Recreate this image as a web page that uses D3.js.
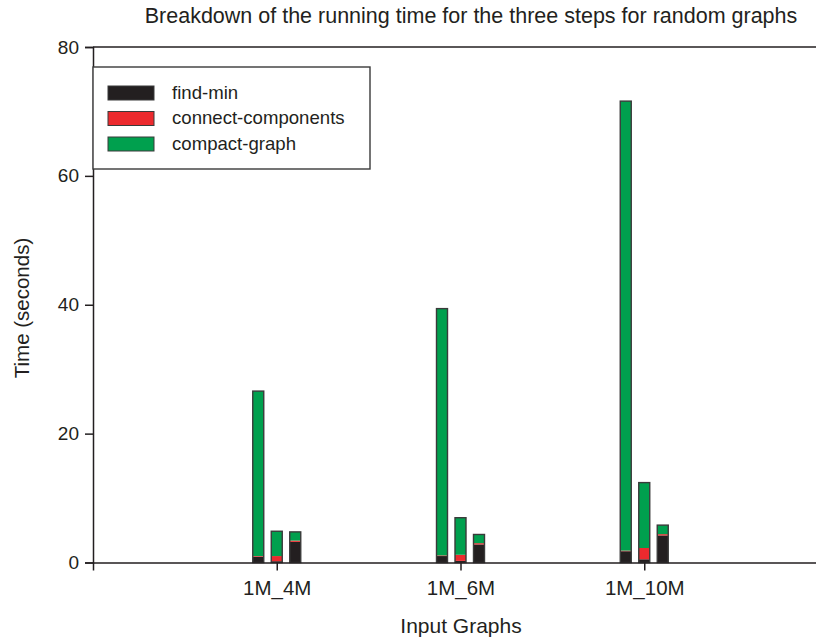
<!DOCTYPE html>
<html>
<head>
<meta charset="utf-8">
<script src="https://cdn.jsdelivr.net/npm/d3@7"></script>
<style>
  html, body { margin: 0; padding: 0; background: #fff; }
  svg { display: block; font-family: "Liberation Sans", Arial, Helvetica, sans-serif; }
</style>
</head>
<body>
<svg id="chart" width="816" height="640"></svg>
<script>
// Input graph sizes (one group per graph)
const graphs = ["1M_4M", "1M_6M", "1M_10M"];
// Three runs per graph; each run is a stack of the three steps
const runs = ["a", "b", "c"];
const steps = ["find-min", "connect-components", "compact-graph"];
const stepColors = ["#231f20", "#ec2a2e", "#00a04e"];

// Seconds spent in each step, per graph (rows) and run (columns)
const findMin = [
  [0.9, 0.2, 3.2],
  [1.0, 0.25, 2.8],
  [1.75, 0.5, 4.2]
];
const connectComponents = [
  [0.1, 0.8, 0.2],
  [0.1, 0.95, 0.2],
  [0.1, 1.75, 0.2]
];
const compactGraph = [
  [25.6, 3.85, 1.35],
  [38.3, 5.75, 1.35],
  [69.75, 10.15, 1.4]
];
const yTicks = [0, 20, 40, 60, 80];

const svg = d3.select("#chart");
const axisColor = "#231f20";

const x = d3.scaleLinear().domain([0, graphs.length + 1]).range([93, 828]);
const y = d3.scaleLinear().domain([0, 80]).range([562.5, 47]);
const runOffset = d3.scalePoint().domain(runs).range([-18.5, 18.5]);
const barW = 11;

// Build stacked rows: one row per (graph, run)
const rows = [];
graphs.forEach((g, gi) => {
  runs.forEach((r, ri) => {
    rows.push({
      graph: g, gi, run: r,
      "find-min": findMin[gi][ri],
      "connect-components": connectComponents[gi][ri],
      "compact-graph": compactGraph[gi][ri]
    });
  });
});
const stacked = d3.stack().keys(steps)(rows);

// Bars
const layers = svg.append("g").selectAll("g")
  .data(stacked)
  .join("g")
  .attr("fill", (d, i) => stepColors[i]);

layers.selectAll("rect")
  .data(d => d)
  .join("rect")
  .attr("x", d => x(d.data.gi + 1) + runOffset(d.data.run) - barW / 2)
  .attr("width", barW)
  .attr("y", d => y(d[1]))
  .attr("height", d => y(d[0]) - y(d[1]));

// Outline around each full stack
const total = d => d["find-min"] + d["connect-components"] + d["compact-graph"];
svg.append("g").selectAll("rect")
  .data(rows)
  .join("rect")
  .attr("x", d => x(d.gi + 1) + runOffset(d.run) - barW / 2)
  .attr("width", barW)
  .attr("y", d => y(total(d)))
  .attr("height", d => y(0) - y(total(d)))
  .attr("fill", "none")
  .attr("stroke", "#3a3a3a")
  .attr("stroke-width", 1.4);

// Y axis
const yAxis = svg.append("g")
  .attr("transform", `translate(${x(0)},0)`)
  .call(d3.axisLeft(y).tickValues(yTicks).tickSize(8).tickPadding(6));
yAxis.select(".domain").attr("stroke", axisColor).attr("stroke-width", 1.5);
yAxis.selectAll(".tick line").attr("stroke", axisColor).attr("stroke-width", 1.5);
yAxis.selectAll(".tick text")
  .attr("fill", "#231f20")
  .style("font-size", "19px")
  .style("font-family", "'Liberation Sans', Arial, sans-serif");

// X axis
const xAxis = svg.append("g")
  .attr("transform", `translate(0,${y(0)})`)
  .call(d3.axisBottom(x)
    .tickValues(graphs.map((g, i) => i + 1))
    .tickFormat((d) => graphs[d - 1])
    .tickSize(8).tickPadding(10));
xAxis.select(".domain").attr("stroke", axisColor).attr("stroke-width", 1.5);
xAxis.selectAll(".tick line").attr("stroke", axisColor).attr("stroke-width", 1.5);
xAxis.selectAll(".tick text")
  .attr("fill", "#231f20")
  .style("font-size", "20.5px")
  .style("font-family", "'Liberation Sans', Arial, sans-serif");

// Top frame line
svg.append("line")
  .attr("x1", x(0)).attr("x2", x(graphs.length + 1))
  .attr("y1", y(80)).attr("y2", y(80))
  .attr("stroke", axisColor).attr("stroke-width", 1.5);

// Title and axis titles
svg.append("text")
  .attr("x", 471).attr("y", 23)
  .attr("text-anchor", "middle")
  .attr("fill", "#231f20")
  .style("font-size", "21.5px")
  .text("Breakdown of the running time for the three steps for random graphs");

svg.append("text")
  .attr("x", 461).attr("y", 633)
  .attr("text-anchor", "middle")
  .attr("fill", "#231f20")
  .style("font-size", "21px")
  .text("Input Graphs");

svg.append("text")
  .attr("transform", "translate(29,308) rotate(-90)")
  .attr("text-anchor", "middle")
  .attr("fill", "#231f20")
  .style("font-size", "20.5px")
  .text("Time (seconds)");

// Legend
const legend = svg.append("g");
legend.append("rect")
  .attr("x", 93).attr("y", 67)
  .attr("width", 277).attr("height", 102)
  .attr("fill", "#fff")
  .attr("stroke", "#3a3a3a").attr("stroke-width", 1.4);

const item = legend.selectAll("g.item")
  .data(steps)
  .join("g")
  .attr("class", "item")
  .attr("transform", (d, i) => `translate(108,${86 + i * 25.5})`);
item.append("rect")
  .attr("width", 46).attr("height", 14)
  .attr("fill", (d, i) => stepColors[i])
  .attr("stroke", "#3a3a3a").attr("stroke-width", 1);
item.append("text")
  .attr("x", 64).attr("y", 12.5)
  .attr("fill", "#231f20")
  .style("font-size", "18.6px")
  .text(d => d);
</script>
</body>
</html>
